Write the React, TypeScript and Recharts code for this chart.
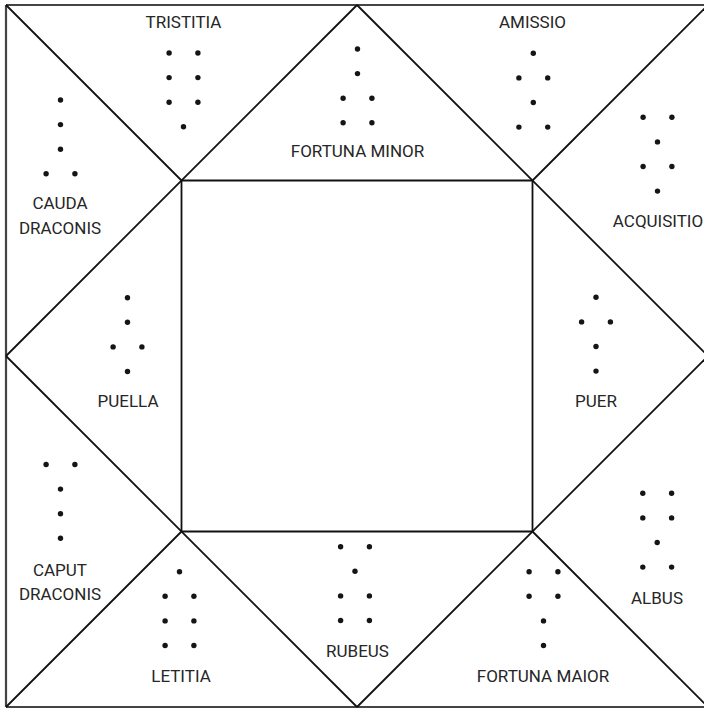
import React from 'react';
import { ScatterChart, Scatter, XAxis, YAxis, ReferenceLine } from 'recharts';

// ---- data: the twelve geomantic figures (rows of 1 or 2 points) ----
const FIGURE_LABELS: string[][] = [
  ['TRISTITIA'],
  ['FORTUNA MINOR'],
  ['AMISSIO'],
  ['ACQUISITIO'],
  ['CAUDA', 'DRACONIS'],
  ['PUELLA'],
  ['PUER'],
  ['CAPUT', 'DRACONIS'],
  ['LETITIA'],
  ['RUBEUS'],
  ['FORTUNA MAIOR'],
  ['ALBUS'],
];
const FIGURE_ROWS: number[][] = [
  [2, 2, 2, 1],
  [1, 1, 2, 2],
  [1, 2, 1, 2],
  [2, 1, 2, 1],
  [1, 1, 1, 2],
  [1, 1, 2, 1],
  [1, 2, 1, 1],
  [2, 1, 1, 1],
  [1, 2, 2, 2],
  [2, 1, 2, 2],
  [2, 2, 1, 1],
  [2, 2, 1, 2],
];

// ---- layout (board units = pixels of the plot) ----
const BOARD = { x0: 6, y0: 5, size: 702 };
const SLOT_X = [183.5, 357.5, 533.3, 657.5, 60.5, 127.5, 596, 60.5, 179.5, 355, 543.5, 657.2];
const SLOT_ROW_Y = [53, 49, 53.3, 117.3, 100, 297.7, 297.3, 464.5, 571.7, 546.7, 571.7, 493.3];
const LABEL_X = [183.5, 357.5, 532.5, 658, 60, 128, 596, 60, 181, 357.5, 543, 657];
const LABEL_Y = [22, 151, 22, 220.5, 203, 401, 401, 569.5, 676, 650.5, 676, 597.5];
const ROW_GAP = 24.6;
const PAIR_HALF = 14.4;
const LINE_GAP = 24.5;

const dots: { x: number; y: number }[] = [];
FIGURE_ROWS.forEach((rows, i) => {
  rows.forEach((n, r) => {
    const y = SLOT_ROW_Y[i] + r * ROW_GAP;
    if (n === 1) dots.push({ x: SLOT_X[i], y });
    else {
      dots.push({ x: SLOT_X[i] - PAIR_HALF, y });
      dots.push({ x: SLOT_X[i] + PAIR_HALF, y });
    }
  });
});

const labels: { x: number; y: number; text: string }[] = [];
FIGURE_LABELS.forEach((lines, i) => {
  lines.forEach((t, k) => labels.push({ x: LABEL_X[i], y: LABEL_Y[i] + k * LINE_GAP, text: t }));
});

const { x0, y0, size } = BOARD;
const x1 = x0 + size;
const y1 = y0 + size;
const cx = x0 + size / 2;
const cy = y0 + size / 2;
const q = size / 4;
const ix0 = x0 + q, ix1 = x1 - q, iy0 = y0 + q, iy1 = y1 - q;

type Seg = [{ x: number; y: number }, { x: number; y: number }];
const outer: Seg[] = [
  [{ x: x0, y: y0 }, { x: x1, y: y0 }],
  [{ x: x0, y: y1 }, { x: x1, y: y1 }],
  [{ x: x0, y: y0 }, { x: x0, y: y1 }],
  [{ x: x1, y: y0 }, { x: x1, y: y1 }],
];
const inner: Seg[] = [
  // diagonals corner -> inner corner
  [{ x: x0, y: y0 }, { x: ix0, y: iy0 }],
  [{ x: x1, y: y0 }, { x: ix1, y: iy0 }],
  [{ x: x0, y: y1 }, { x: ix0, y: iy1 }],
  [{ x: x1, y: y1 }, { x: ix1, y: iy1 }],
  // diamond
  [{ x: cx, y: y0 }, { x: x0, y: cy }],
  [{ x: x0, y: cy }, { x: cx, y: y1 }],
  [{ x: cx, y: y1 }, { x: x1, y: cy }],
  [{ x: x1, y: cy }, { x: cx, y: y0 }],
  // inner square
  [{ x: ix0, y: iy0 }, { x: ix1, y: iy0 }],
  [{ x: ix0, y: iy1 }, { x: ix1, y: iy1 }],
  [{ x: ix0, y: iy0 }, { x: ix0, y: iy1 }],
  [{ x: ix1, y: iy0 }, { x: ix1, y: iy1 }],
];

const DotShape = (p: any) => <circle cx={p.cx} cy={p.cy} r={2.7} fill="#151515" />;
const LabelShape = (p: any) => (
  <text
    x={p.cx}
    y={p.cy + 6}
    textAnchor="middle"
    fontFamily="Roboto, 'Liberation Sans', sans-serif"
    fontSize={17}
    fill="#262626"
  >
    {p.payload.text}
  </text>
);

export default function App() {
  return (
    <div style={{ position: 'absolute', left: 0, top: 0, width: 704, height: 710, background: '#fff' }}>
      <ScatterChart width={704} height={710} margin={{ top: 5, left: 6, right: 0, bottom: 2 }}>
        <XAxis type="number" dataKey="x" domain={[6, 704]} hide allowDataOverflow />
        <YAxis type="number" dataKey="y" domain={[5, 708]} reversed hide allowDataOverflow />
        {outer.map((s, i) => (
          <ReferenceLine key={'o' + i} segment={s} stroke="#444" strokeWidth={2.2} ifOverflow="visible" />
        ))}
        {inner.map((s, i) => (
          <ReferenceLine key={'i' + i} segment={s} stroke="#111" strokeWidth={1.8} ifOverflow="visible" />
        ))}
        <Scatter data={dots} shape={DotShape} isAnimationActive={false} />
        <Scatter data={labels} shape={LabelShape} isAnimationActive={false} />
      </ScatterChart>
    </div>
  );
}
